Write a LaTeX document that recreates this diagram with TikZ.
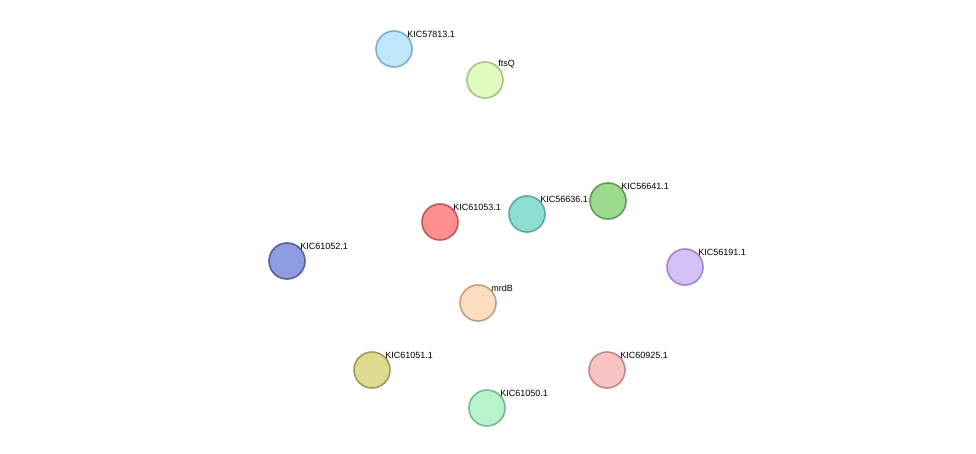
\documentclass[tikz,border=0pt]{standalone}
\usepackage{fontspec}
\setmainfont{Liberation Sans}
\usetikzlibrary{calc,backgrounds}
\definecolor{sgreen}{HTML}{3DCB3D}
\definecolor{sblue}{HTML}{3333F0}
\definecolor{smag}{HTML}{D040D0}
\definecolor{syel}{HTML}{C4D64A}
\definecolor{sblack}{HTML}{404040}
\definecolor{sred}{HTML}{F03030}
\definecolor{scyan}{HTML}{30C0D0}
\definecolor{slblue}{HTML}{9A9AF0}
\tikzset{protein/.style 2 args={circle,line width=1.6pt,minimum size=36pt,inner sep=0,
        /utils/exec={\definecolor{tmpfill}{HTML}{#1}\definecolor{tmpdraw}{HTML}{#2}},fill=tmpfill,draw=tmpdraw},
    lbl/.style={font=\fontsize{9pt}{10pt}\selectfont,inner sep=1pt,label distance=-3pt},
    link/.style={line width=1.1pt}}

\begin{document}
\begin{tikzpicture}[x=1pt,y=-1pt]

\newcommand\linkbundle[3]
{
    \def\nlinks{0}
    \foreach \linkcol in {#3}{\pgfmathtruncatemacro\tmpn{\nlinks+1}\xdef\nlinks{\tmpn}}
    \foreach \linkcol [count=\i] in {#3}
    {
        \pgfmathsetmacro\off{(\i-(\nlinks+1)/2)*1.7}
        \draw [link,\linkcol] ($(#1)!\off pt!90:(#2)$) -- ($(#2)!\off pt!-90:(#1)$);
    }
}

\useasboundingbox [fill=white] (0,0) rectangle (976,454);

\node (k57813) [protein={BFE6FB}{7AAFCE},label={[lbl]40:KIC57813.1}] at (394,49) {};
\node (ftsq) [protein={E0FBC0}{A6C47F},label={[lbl]40:ftsQ}] at (485,80) {};
\node (k61053) [protein={FF8E8E}{C05A5A},label={[lbl]40:KIC61053.1}] at (440,222) {};
\node (k56636) [protein={8FDED3}{5EA8A0},label={[lbl]40:KIC56636.1}] at (527,214) {};
\node (k56641) [protein={9CDB8E}{5E9E54},label={[lbl]40:KIC56641.1}] at (608,201) {};
\node (k61052) [protein={8F9BE0}{5560A0},label={[lbl]40:KIC61052.1}] at (287,261) {};
\node (k56191) [protein={D3C1F8}{9E88CC},label={[lbl]40:KIC56191.1}] at (685,267) {};
\node (mrdb) [protein={FDDDC0}{C0A080},label={[lbl]40:mrdB}] at (478,303) {};
\node (k61051) [protein={DEDA92}{A09C58},label={[lbl]40:KIC61051.1}] at (372,370) {};
\node (k60925) [protein={F7C3C3}{C08888},label={[lbl]40:KIC60925.1}] at (607,370) {};
\node (k61050) [protein={B8F3CC}{78B890},label={[lbl]40:KIC61050.1}] at (487,408) {};

\begin{pgfonlayer}{background}
% top pair
\linkbundle{k57813}{ftsq}{sgreen,sblue,smag,syel}
\linkbundle{k57813}{k61053}{sgreen,smag,syel}
\linkbundle{k57813}{k56636}{sgreen,smag,syel}
\linkbundle{ftsq}{k61053}{sgreen,smag,syel}
\linkbundle{ftsq}{k56636}{sgreen,sblue,smag,syel}
\linkbundle{ftsq}{k56641}{sgreen,sblue,smag,syel}
\linkbundle{ftsq}{mrdb}{sgreen,sblue,smag,syel}
\linkbundle{ftsq}{k61052}{sblue}
\linkbundle{ftsq}{k56191}{syel}
% central cluster
\linkbundle{k61053}{k56636}{sgreen,sred,sblue,sblack,smag,syel}
\linkbundle{k61053}{k56641}{sgreen,sblue,sblack,smag,syel}
\linkbundle{k61053}{k61052}{sgreen,sblue,syel}
\linkbundle{k61053}{k56191}{sblue,smag,syel}
\linkbundle{k61053}{mrdb}{sgreen,sred,sblue,sblack,smag,syel}
\linkbundle{k61053}{k61051}{sgreen,sblue,sblack,smag,syel}
\linkbundle{k61053}{k61050}{sgreen,sblue,sblack,smag,syel}
\linkbundle{k61053}{k60925}{sblue,smag,syel}
\linkbundle{k56636}{k56641}{sgreen,sblue,sblack,smag,syel}
\linkbundle{k56636}{k56191}{sblue,smag,syel}
\linkbundle{k56636}{mrdb}{sgreen,sblue,sblack,smag,syel}
\linkbundle{k56636}{k61051}{sgreen,sblue,sblack,smag,syel}
\linkbundle{k56636}{k61050}{sgreen,sblue,smag,syel}
\linkbundle{k56636}{k60925}{sblue,scyan,smag,syel}
\linkbundle{k56641}{k56191}{sblue,syel}
\linkbundle{k56641}{mrdb}{sgreen,sblue,slblue,syel}
\linkbundle{k56641}{k61051}{sgreen,sblue,smag,syel}
\linkbundle{k56641}{k61050}{sgreen,smag,syel}
\linkbundle{k56641}{k60925}{sblue,smag,syel}
% outer links
\linkbundle{k61052}{k61051}{sgreen,sblue}
\linkbundle{k61052}{mrdb}{sgreen}
\linkbundle{k61052}{k61050}{sgreen}
\linkbundle{k56191}{mrdb}{sblue}
\linkbundle{k56191}{k60925}{sgreen,sblue,smag,slblue,syel}
\linkbundle{mrdb}{k61051}{sgreen,sblue,sblack,smag,syel}
\linkbundle{mrdb}{k61050}{sgreen,sblue,smag,syel}
\linkbundle{mrdb}{k60925}{sblue,smag,syel}
\linkbundle{k61051}{k61050}{sgreen,sblue,smag,syel}
\linkbundle{k61051}{k60925}{sblue,smag,syel}
\end{pgfonlayer}

\end{tikzpicture}
\end{document}
